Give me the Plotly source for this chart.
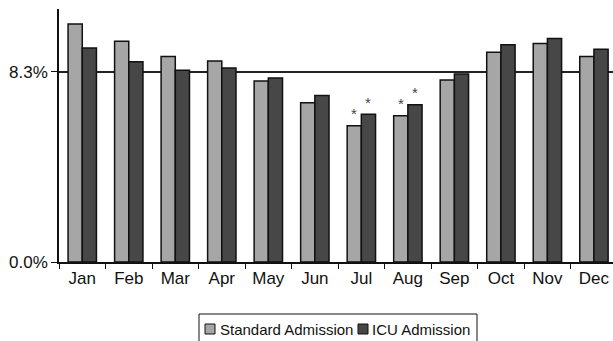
import plotly.graph_objects as go

# Monthly share of admissions (%)
months = ["Jan", "Feb", "Mar", "Apr", "May", "Jun", "Jul", "Aug", "Sep", "Oct", "Nov", "Dec"]
standard = [10.40, 9.64, 8.97, 8.78, 7.91, 6.95, 5.95, 6.39, 7.95, 9.16, 9.54, 8.97]
icu = [9.35, 8.75, 8.37, 8.47, 8.04, 7.27, 6.45, 6.87, 8.21, 9.49, 9.76, 9.29]
flagged_months = ["Jul", "Aug"]
y_ticks = [0, 8.3]
y_labels = ["0.0%", "8.3%"]
series_names = ["Standard Admission", "ICU Admission"]
series_colors = ["#a6a6a6", "#474747"]

font_family = "Liberation Sans, Arial, sans-serif"
W, H = 613, 341
M_L, M_R, M_T, M_B = 59, 0, 9, 79
PW, PH = W - M_L - M_R, H - M_T - M_B


def px_x(x):
    return (x - M_L) / PW


def px_y(y):
    return (H - M_B - y) / PH


fig = go.Figure()
for name, vals, col in zip(series_names, [standard, icu], series_colors):
    fig.add_trace(go.Bar(
        x=months, y=vals, name=name, showlegend=False,
        marker=dict(color=col, line=dict(color="#111111", width=1.5)),
    ))

# significance asterisks above the flagged month bars
for m in flagged_months:
    i = months.index(m)
    for vals, shift in [(standard, -7), (icu, 7)]:
        fig.add_annotation(
            x=m, y=vals[i], text="*", showarrow=False,
            xshift=shift, yshift=12, yanchor="middle",
            font=dict(size=15, color="#444444", family=font_family),
        )

# legend box with swatches
box_l, box_r, box_t, box_b = 199, 477, 314, 345
fig.add_shape(type="rect", xref="paper", yref="paper",
              x0=px_x(box_l), x1=px_x(box_r), y0=px_y(box_b), y1=px_y(box_t),
              line=dict(color="#111111", width=1), fillcolor="white", layer="above")
legend_items = [(205, 218), (358, 370)]
for (sq_x, tx), name, col in zip(legend_items, series_names, series_colors):
    fig.add_shape(type="rect", xref="paper", yref="paper",
                  x0=px_x(sq_x), x1=px_x(sq_x + 10), y0=px_y(334), y1=px_y(324),
                  line=dict(color="#111111", width=1), fillcolor=col, layer="above")
    fig.add_annotation(xref="paper", yref="paper", x=px_x(tx), y=px_y(329.5),
                       text=name, showarrow=False, xanchor="left", yanchor="middle",
                       font=dict(size=15, color="#111111", family=font_family))

fig.update_layout(
    width=W, height=H,
    margin=dict(l=M_L, r=M_R, t=M_T, b=M_B),
    paper_bgcolor="white", plot_bgcolor="white",
    barmode="group", bargap=0.39, bargroupgap=0,
    font=dict(family=font_family, color="#111111", size=17),
    xaxis=dict(
        range=[-0.5, 11.41],
        showline=True, linecolor="#111111", linewidth=1.5,
        ticks="outside", tickson="boundaries", ticklen=5, tickcolor="#111111",
        tickfont=dict(size=17), showgrid=False,
    ),
    yaxis=dict(
        range=[0, 11.05], showline=True, linecolor="#111111", linewidth=1.5,
        tickvals=y_ticks, ticktext=y_labels,
        ticks="outside", ticklen=6, tickcolor="#111111",
        showgrid=True, gridcolor="#222222", gridwidth=1.5,
        zeroline=False, tickfont=dict(size=17),
    ),
)

fig.write_html("out.html")
